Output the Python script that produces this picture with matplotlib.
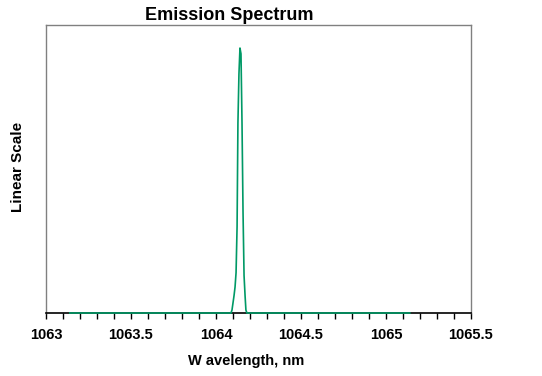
import matplotlib
matplotlib.use("Agg")
import matplotlib.pyplot as plt
from matplotlib.ticker import MultipleLocator

wavelength = [1063.14, 1064.088, 1064.094, 1064.100, 1064.106, 1064.112, 1064.118, 1064.124,
              1064.129, 1064.135, 1064.141, 1064.147, 1064.153, 1064.159, 1064.165,
              1064.171, 1064.176, 1064.182, 1065.14]
intensity = [0.0, 0.0, 0.01, 0.035, 0.06, 0.09, 0.14, 0.30, 0.66, 0.83, 0.92, 0.90,
             0.66, 0.35, 0.13, 0.06, 0.01, 0.0, 0.0]
xticks = [1063, 1063.5, 1064, 1064.5, 1065, 1065.5]
xticklabels = ["1063", "1063.5", "1064", "1064.5", "1065", "1065.5"]

plt.rcParams['font.family'] = ['Liberation Sans', 'DejaVu Sans']

fig = plt.figure(figsize=(5.42, 3.76), dpi=100)
ax = fig.add_axes([46/542, 1-313/376, (471-46)/542, (313-25)/376])
ax.plot(wavelength, intensity, color='#009966', lw=1.2, zorder=3, clip_on=False)
ax.set_xlim(1063, 1065.5)
ax.set_ylim(0, 1)
ax.set_xticks(xticks)
ax.set_xticklabels(xticklabels, fontsize=10.5, fontweight='bold')
ax.xaxis.set_minor_locator(MultipleLocator(0.1))
ax.tick_params(axis='x', which='both', direction='out', length=4, width=1, color='black', pad=7)
ax.set_yticks([])
for s in ['top', 'left', 'right']:
    ax.spines[s].set_color('#808080')
    ax.spines[s].set_linewidth(1)
ax.spines['bottom'].set_color('black')
ax.spines['bottom'].set_linewidth(1.2)
fig.text(246/542, 1-361/376, "W avelength, nm", ha='center', va='center', fontsize=10.5, fontweight='bold')
fig.text(18/542, 1-167/376, "Linear Scale", ha='center', va='center', rotation=90, fontsize=11, fontweight='bold')
fig.text(229/542, 1-15/376, "Emission Spectrum", ha='center', va='center', fontsize=13, fontweight='bold')
fig.savefig("out.png", dpi=100)
